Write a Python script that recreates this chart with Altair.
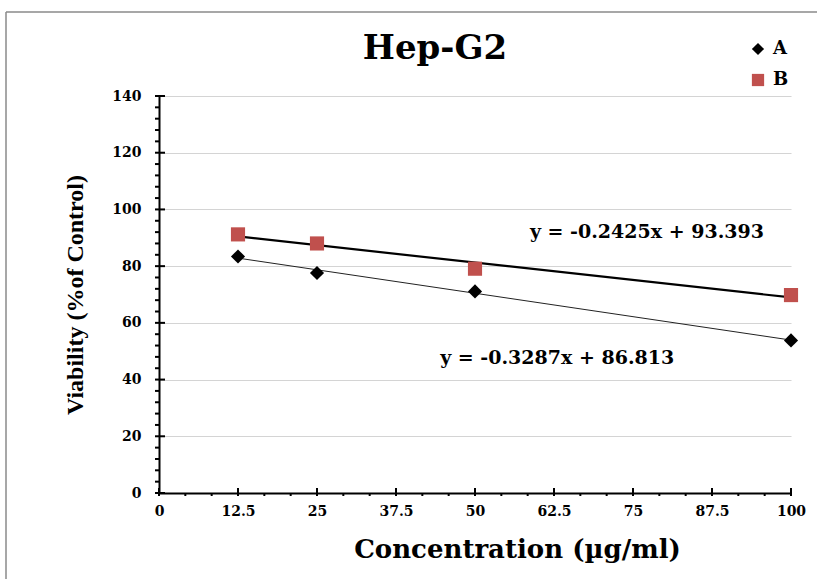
import altair as alt
import pandas as pd

# ---- data ----
conc = [12.5, 25, 50, 100]
via_A = [83.4, 77.6, 71.1, 53.8]
via_B = [91.2, 88.0, 79.1, 69.8]
series = ["A", "B"]
colors = ["#000000", "#C0504D"]
shapes = ["diamond", "square"]
eq_text = ["y = -0.2425x + 93.393", "y = -0.3287x + 86.813"]
eq_x = [77.2, 63.0]
eq_y = [92.0, 47.5]
title_text = ["Hep-G2"]
y_major = [0, 20, 40, 60, 80, 100, 120, 140]
y_minor = [v for v in range(0, 141, 4) if v % 20 != 0]
x_major = [0, 12.5, 25, 37.5, 50, 62.5, 75, 87.5, 100]
x_minor = [m + k * 12.5 / 3 for m in x_major[:-1] for k in (1, 2)]

W, H = 632, 397
SERIF = "DejaVu Serif"

df = pd.DataFrame({
    "conc": conc * 2,
    "via": via_A + via_B,
    "series": ["A"] * len(conc) + ["B"] * len(conc),
})

xs = alt.Scale(domain=[0, 100], nice=False, zero=False)
ys = alt.Scale(domain=[0, 140], nice=False)

x_axis = alt.Axis(
    values=x_major, grid=False, ticks=False, tickSize=0, format=".4~g",
    domainColor="black", domainWidth=2, labelFlush=False, labelOverlap=False,
    labelFont=SERIF, labelFontWeight="bold", labelFontSize=14, labelColor="black",
    labelPadding=11,
    titleFont=SERIF, titleFontWeight="bold", titleFontSize=26, titleColor="black",
    titleX=358, titleY=56, titleBaseline="middle", titleAlign="center",
)
y_axis = alt.Axis(
    values=y_major, grid=True, gridColor="#d4d4d4", gridWidth=1.2,
    ticks=False, tickSize=0, format=".4~g",
    domainColor="black", domainWidth=2, labelOverlap=False,
    labelFont=SERIF, labelFontWeight="bold", labelFontSize=14, labelColor="black",
    labelPadding=18,
    titleFont="Liberation Serif", titleFontWeight="bold", titleFontSize=24,
    titleColor="black", titleX=-84, titleY=H / 2, titleAngle=270,
    titleBaseline="middle", titleAlign="center",
)

legend = alt.Legend(
    title=None, orient="none", legendX=590, legendY=-56,
    labelFont=SERIF, labelFontWeight="bold", labelFontSize=18, labelColor="black",
    symbolSize=150, rowPadding=13, padding=0, labelOffset=6,
)

points = alt.Chart(df).mark_point(filled=True, opacity=1, size=200).encode(
    x=alt.X("conc:Q", scale=xs, axis=x_axis, title="Concentration (µg/ml)"),
    y=alt.Y("via:Q", scale=ys, axis=y_axis, title="Viability (%of Control)"),
    color=alt.Color("series:N", scale=alt.Scale(domain=series, range=colors), legend=legend),
    shape=alt.Shape("series:N", scale=alt.Scale(domain=series, range=shapes), legend=legend),
)

line_A = alt.Chart(df).transform_filter(alt.datum.series == "A").transform_regression(
    "conc", "via"
).mark_line(color="#222222", strokeWidth=1).encode(
    x=alt.X("conc:Q", scale=xs), y=alt.Y("via:Q", scale=ys)
)
line_B = alt.Chart(df).transform_filter(alt.datum.series == "B").transform_regression(
    "conc", "via"
).mark_line(color="#000000", strokeWidth=2.2).encode(
    x=alt.X("conc:Q", scale=xs), y=alt.Y("via:Q", scale=ys)
)

eq_df = pd.DataFrame({"conc": eq_x, "via": eq_y, "t": eq_text})
equations = alt.Chart(eq_df).mark_text(
    font=SERIF, fontWeight="bold", fontSize=19, color="black", align="center", baseline="middle"
).encode(x=alt.X("conc:Q", scale=xs), y=alt.Y("via:Q", scale=ys), text="t:N")

# axis ticks
ymaj = alt.Chart(pd.DataFrame({"via": y_major})).mark_rule(color="black", strokeWidth=2).encode(
    y=alt.Y("via:Q", scale=ys), x=alt.value(-4), x2=alt.value(6))
ymin = alt.Chart(pd.DataFrame({"via": y_minor})).mark_rule(color="black", strokeWidth=2).encode(
    y=alt.Y("via:Q", scale=ys), x=alt.value(-4), x2=alt.value(0))
xmaj = alt.Chart(pd.DataFrame({"conc": x_major})).mark_rule(color="black", strokeWidth=2).encode(
    x=alt.X("conc:Q", scale=xs), y=alt.value(H - 5), y2=alt.value(H + 3))
xmin = alt.Chart(pd.DataFrame({"conc": x_minor})).mark_rule(color="black", strokeWidth=2).encode(
    x=alt.X("conc:Q", scale=xs), y=alt.value(H), y2=alt.value(H + 3))

# title
title = alt.Chart(pd.DataFrame({"t": title_text})).mark_text(
    font=SERIF, fontWeight="bold", fontSize=34, color="black", align="center", baseline="alphabetic"
).encode(x=alt.value(276), y=alt.value(-37), text="t:N")

# frame (outer border)
one = pd.DataFrame({"a": [0]})
frame_top = alt.Chart(one).mark_rule(color="#8a8a8a", strokeWidth=1.5).encode(
    x=alt.value(-153), x2=alt.value(700), y=alt.value(-84))
frame_left = alt.Chart(one).mark_rule(color="#8a8a8a", strokeWidth=1.5).encode(
    x=alt.value(-153), y=alt.value(-84), y2=alt.value(520))

chart = alt.layer(
    frame_top, frame_left, line_A, line_B, points, equations, ymaj, ymin, xmaj, xmin, title
).properties(
    width=W, height=H,
    padding={"left": 159, "top": 96, "right": 26, "bottom": 86},
    autosize=alt.AutoSizeParams(type="none"),
    background="white",
).configure_view(strokeWidth=0)

chart.save("out.html", embed_options={"renderer": "svg", "actions": False})
